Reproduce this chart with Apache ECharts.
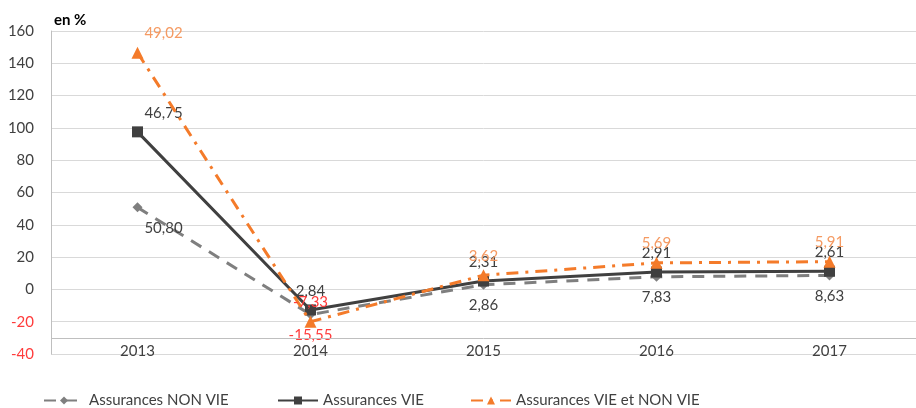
<!DOCTYPE html>
<html>
<head>
<meta charset="utf-8">
<script src="https://cdn.jsdelivr.net/npm/echarts@6/dist/echarts.min.js"></script>
<style>html,body{margin:0;padding:0;background:#fff}#c{width:916px;height:408px}</style>
</head>
<body>
<div id="c"></div>
<script>
const categories = ['2013', '2014', '2015', '2016', '2017'];
const nonVie = [50.80, -15.55, 2.86, 7.83, 8.63];
const vie = [46.75, 2.84, 2.31, 2.91, 2.61];
const vieEtNonVie = [49.02, -7.33, 3.62, 5.69, 5.91];
const seriesNames = ['Assurances NON VIE', 'Assurances VIE', 'Assurances VIE et NON VIE'];
const yTitle = 'en %';

const FONT = 'Lato';
const RED = '#FF3B3B';
const fmt = v => v.toFixed(2).replace('.', ',');

function items(arr, baseColor) {
  return arr.map((v, i) => ({
    value: v,
    label: Object.assign({ color: v < 0 ? RED : baseColor }, i === 0 ? { offset: [26, 0] } : {})
  }));
}

const legendLefts = [43, 277, 470];
const legends = seriesNames.map((n, i) => ({
  left: legendLefts[i], top: 393, padding: 0, itemWidth: 40, itemHeight: 10,
  textStyle: { fontSize: 15, color: '#404040', fontFamily: FONT },
  data: [n]
}));

const chart = echarts.init(document.getElementById('c'));
chart.setOption({
  animation: false,
  textStyle: { fontFamily: FONT },
  title: { text: yTitle, left: 54, top: 13, padding: 0, textStyle: { fontSize: 15, fontWeight: 'bold', color: '#000', fontFamily: FONT } },
  grid: { left: 51, right: -9, top: 31, bottom: 54, containLabel: false },
  legend: legends,
  xAxis: {
    type: 'category', data: categories, boundaryGap: true,
    axisLine: { show: false }, axisTick: { show: false },
    axisLabel: { margin: -10, fontSize: 15, color: '#404040' }
  },
  yAxis: {
    type: 'value', min: -40, max: 160, interval: 20,
    axisLine: { show: true, lineStyle: { color: '#bfbfbf', width: 1 } },
    axisTick: { show: false },
    axisLabel: { margin: 17, fontSize: 15, color: v => (v < 0 ? RED : '#404040') },
    splitLine: { lineStyle: { color: '#d9d9d9', width: 1 } }
  },
  series: [
    {
      name: seriesNames[0], type: 'line', stack: 'total', stackStrategy: 'all',
      data: items(nonVie, '#404040'),
      color: '#7f7f7f',
      symbol: 'diamond', symbolSize: 10,
      lineStyle: { width: 3, type: [12, 9], color: '#7f7f7f' },
      itemStyle: { color: '#7f7f7f' },
      label: { show: true, position: 'bottom', distance: 8, fontSize: 15, formatter: p => fmt(p.value) },
      markLine: {
        silent: true, symbol: 'none', label: { show: false },
        lineStyle: { color: '#bfbfbf', width: 1, type: 'solid' },
        data: [{ yAxis: -30 }]
      },
      z: 2
    },
    {
      name: seriesNames[1], type: 'line', stack: 'total', stackStrategy: 'all',
      data: items(vie, '#404040'),
      color: '#404040',
      symbol: 'rect', symbolSize: 11,
      lineStyle: { width: 3, type: 'solid', color: '#404040' },
      itemStyle: { color: '#404040' },
      label: { show: true, position: 'top', distance: 6, fontSize: 15, formatter: p => fmt(p.value) },
      z: 3
    },
    {
      name: seriesNames[2], type: 'line', stack: 'total', stackStrategy: 'all',
      data: items(vieEtNonVie, '#F59A62'),
      color: '#F47B2A',
      symbol: 'triangle', symbolSize: 12,
      lineStyle: { width: 3, type: [12, 7, 3, 7], color: '#F47B2A' },
      itemStyle: { color: '#F47B2A' },
      label: { show: true, position: 'top', distance: 6, fontSize: 15, formatter: p => fmt(p.value) },
      z: 4
    }
  ]
});
</script>
</body>
</html>
